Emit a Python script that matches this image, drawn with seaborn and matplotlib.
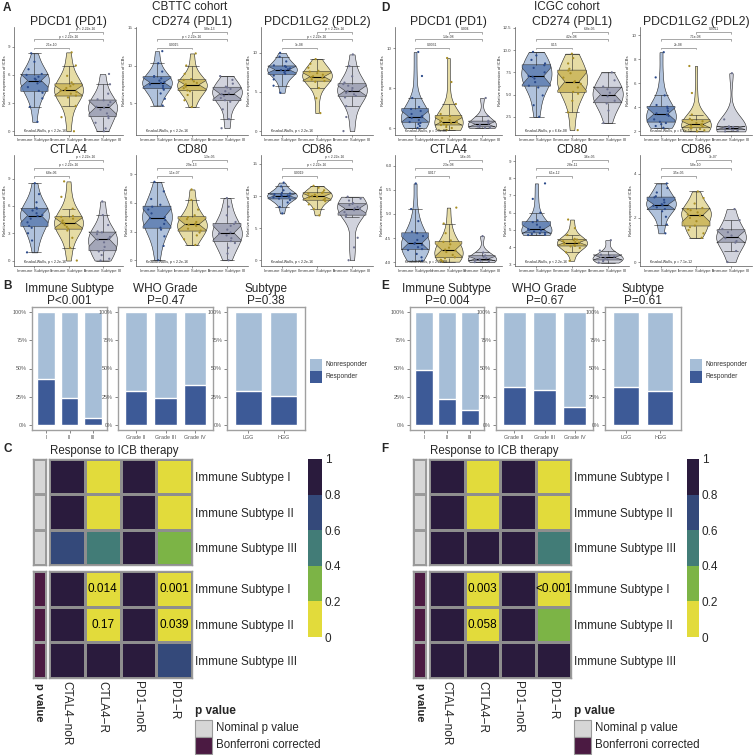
import numpy as np
import pandas as pd
import matplotlib
matplotlib.use('Agg')
import matplotlib.pyplot as plt
import seaborn as sns
from matplotlib.colors import ListedColormap
from matplotlib.patches import Rectangle
from matplotlib.ticker import FormatStrFormatter

# ---------------- data ----------------
subtypes = ['Immune Subtype I', 'Immune Subtype II', 'Immune Subtype III']

# CBTTC expression per immune subtype (I, II, III)
cbttc_pdcd1 = [[1.0, 2.6, 3.5, 4.1, 4.3, 4.7, 5.1, 5.3, 5.5, 5.6, 5.8, 6.0, 6.1, 6.6, 7.4, 8.3],
               [0.0, 1.5, 2.7, 3.6, 3.8, 4.0, 4.2, 4.3, 4.4, 4.6, 4.8, 5.0, 5.2, 5.9, 7.0, 8.4],
               [0.0, 0.3, 0.9, 1.4, 1.6, 1.9, 2.3, 2.5, 2.6, 2.8, 3.1, 3.3, 3.4, 4.0, 5.0, 6.1]]
cbttc_cd274 = [[4.7, 5.6, 6.3, 6.8, 7.0, 7.3, 7.5, 7.7, 7.8, 8.0, 8.3, 8.5, 8.6, 9.2, 10.3, 11.9],
               [4.5, 5.4, 6.1, 6.6, 6.7, 7.0, 7.2, 7.4, 7.5, 7.7, 7.9, 8.1, 8.2, 8.9, 10.0, 11.6],
               [1.7, 2.9, 4.2, 5.2, 5.4, 5.7, 6.0, 6.2, 6.3, 6.6, 6.9, 7.1, 7.2, 7.6, 8.1, 8.6]]
cbttc_pdcd1lg2 = [[4.9, 5.8, 6.6, 7.1, 7.3, 7.5, 7.7, 7.8, 7.9, 8.0, 8.2, 8.3, 8.4, 8.9, 9.5, 10.0],
                  [2.3, 4.2, 5.5, 6.3, 6.4, 6.6, 6.8, 6.9, 7.0, 7.2, 7.4, 7.6, 7.7, 8.1, 8.6, 9.2],
                  [0.0, 1.8, 3.2, 4.3, 4.5, 4.7, 4.9, 5.1, 5.2, 5.5, 5.8, 6.0, 6.2, 7.0, 8.3, 9.8]]
cbttc_ctla4 = [[0.9, 2.2, 3.0, 3.6, 3.8, 4.2, 4.6, 4.9, 5.0, 5.2, 5.5, 5.7, 5.8, 6.4, 7.3, 8.5],
               [0.0, 1.4, 2.5, 3.3, 3.5, 3.7, 3.9, 4.1, 4.2, 4.4, 4.6, 4.8, 4.9, 5.7, 7.0, 8.7],
               [0.0, 0.2, 0.6, 1.0, 1.1, 1.5, 2.0, 2.3, 2.4, 2.6, 2.9, 3.1, 3.2, 3.9, 5.0, 6.5]]
cbttc_cd80 = [[0.0, 1.5, 2.5, 3.2, 3.4, 3.8, 4.2, 4.4, 4.5, 4.9, 5.3, 5.6, 5.8, 6.4, 7.2, 8.2],
              [1.6, 2.2, 2.6, 2.9, 3.1, 3.3, 3.6, 3.7, 3.8, 4.0, 4.3, 4.5, 4.7, 5.3, 6.3, 7.4],
              [0.0, 0.7, 1.3, 1.8, 2.0, 2.3, 2.6, 2.8, 2.9, 3.2, 3.6, 3.8, 4.0, 4.7, 5.6, 6.5]]
cbttc_cd86 = [[7.3, 8.3, 9.0, 9.4, 9.6, 9.8, 9.9, 10.0, 10.1, 10.2, 10.3, 10.4, 10.5, 10.9, 11.5, 12.1],
              [7.0, 8.0, 8.7, 9.2, 9.4, 9.6, 9.8, 9.9, 10.0, 10.2, 10.4, 10.5, 10.6, 10.9, 11.3, 11.6],
              [0.0, 2.0, 3.5, 6.8, 7.1, 7.5, 7.8, 8.0, 8.1, 8.3, 8.6, 8.8, 8.9, 9.3, 9.6, 9.9]]

# ICGC expression per immune subtype
icgc_pdcd1 = [[6.0, 6.1, 6.2, 6.25, 6.3, 6.4, 6.5, 6.55, 6.6, 6.7, 6.85, 6.95, 7.05, 7.5, 8.6, 9.8],
              [5.9, 6.0, 6.05, 6.15, 6.15, 6.2, 6.25, 6.3, 6.35, 6.4, 6.5, 6.6, 6.7, 7.2, 8.3, 9.5],
              [6.0, 6.02, 6.05, 6.08, 6.15, 6.22, 6.3, 6.36, 6.6, 7.5]]
icgc_cd274 = [[2.5, 3.8, 4.9, 5.8, 6.0, 6.4, 6.8, 7.0, 7.1, 7.5, 8.0, 8.3, 8.5, 8.9, 9.4, 9.8],
              [1.0, 3.0, 4.3, 5.1, 5.3, 5.8, 6.2, 6.4, 6.5, 6.9, 7.4, 7.7, 7.9, 8.5, 9.1, 9.6],
              [1.8, 3.2, 4.0, 4.3, 4.8, 5.2, 5.6, 5.9, 6.6, 7.5]]
icgc_pdcd1lg2 = [[2.3, 2.45, 2.6, 2.7, 2.8, 3.0, 3.3, 3.4, 3.5, 3.7, 3.9, 4.05, 4.2, 5.0, 6.5, 8.6],
                 [2.0, 2.1, 2.2, 2.3, 2.3, 2.4, 2.5, 2.55, 2.6, 2.7, 2.85, 2.95, 3.05, 3.4, 5.2, 7.45],
                 [2.0, 2.08, 2.14, 2.2, 2.27, 2.32, 2.37, 2.42, 3.0, 6.85]]
icgc_ctla4 = [[4.03, 4.1, 4.17, 4.25, 4.27, 4.31, 4.36, 4.38, 4.4, 4.46, 4.54, 4.6, 4.63, 4.85, 5.1, 5.63],
              [4.01, 4.03, 4.05, 4.08, 4.1, 4.15, 4.21, 4.24, 4.26, 4.3, 4.37, 4.42, 4.45, 4.6, 4.8, 5.13],
              [4.0, 4.01, 4.03, 4.04, 4.06, 4.08, 4.11, 4.14, 4.2, 4.54]]
icgc_cd80 = [[4.7, 4.72, 4.76, 4.8, 4.83, 4.9, 4.97, 5.0, 5.05, 5.15, 5.3, 5.45, 5.55, 6.0, 6.8, 7.7],
             [3.2, 3.7, 3.95, 4.04, 4.07, 4.13, 4.2, 4.25, 4.28, 4.33, 4.4, 4.44, 4.48, 4.7, 5.1, 5.6],
             [3.1, 3.18, 3.24, 3.28, 3.36, 3.44, 3.5, 3.56, 3.8, 4.4]]
icgc_cd86 = [[1.3, 1.7, 2.05, 2.3, 2.4, 2.48, 2.55, 2.58, 2.62, 2.7, 2.82, 2.93, 2.98, 3.15, 3.35, 3.56],
             [1.1, 1.3, 1.45, 1.58, 1.65, 1.85, 2.0, 2.1, 2.15, 2.25, 2.35, 2.4, 2.45, 2.65, 2.9, 3.2],
             [0.0, 0.5, 0.88, 0.95, 1.08, 1.2, 1.35, 1.5, 1.9, 2.4]]

gene_titles = ['PDCD1 (PD1)', 'CD274 (PDL1)', 'PDCD1LG2 (PDL2)', 'CTLA4', 'CD80', 'CD86']

# pairwise p values: I vs II, I vs III, II vs III
cbttc_pairs = [['2.1e-10', 'p < 2.22e-16', 'p < 2.22e-16'],
               ['0.0015', 'p < 2.22e-16', '9.8e-13'],
               ['1e-08', 'p < 2.22e-16', 'p < 2.22e-16'],
               ['6.8e-06', 'p < 2.22e-16', 'p < 2.22e-16'],
               ['1.1e-07', '2.9e-13', '1.3e-05'],
               ['0.0019', 'p < 2.22e-16', 'p < 2.22e-16']]
icgc_pairs = [['0.0031', '1.4e-08', '0.004'],
              ['0.15', '4.2e-08', '6.8e-05'],
              ['2e-08', '7.1e-08', '0.0011'],
              ['0.017', '2.3e-08', '1.6e-05'],
              ['6.1e-12', '2.8e-11', '3.6e-05'],
              ['3.5e-05', '5.8e-10', '3e-07']]
cbttc_kw = ['p < 2.2e-16'] * 6
icgc_kw = ['p = 1.9e-08', 'p = 6.6e-08', 'p = 6.6e-12', 'p = 2.7e-08', 'p < 2.2e-16', 'p = 7.1e-12']

cbttc_ylims = [(-0.4, 11.1), (0.8, 15.1), (-0.5, 13.3), (-0.6, 11.6), (-0.6, 11.0), (-0.9, 16.4)]
cbttc_yticks = [[0, 3, 6, 9], [5, 10, 15], [0, 5, 10], [0, 3, 6, 9], [0, 3, 6, 9], [0, 5, 10, 15]]
icgc_ylims = [(5.65, 11.05), (0.45, 12.6), (1.7, 10.7), (3.92, 6.22), (2.9, 9.35), (-0.18, 4.85)]
icgc_yticks = [[6, 8, 10], [2.5, 5, 7.5, 10, 12.5], [2, 4, 6, 8, 10],
               [4.0, 4.5, 5.0, 5.5, 6.0], [3, 4, 5, 6, 7, 8, 9], [0, 2, 4]]
icgc_fmt = ['%g', '%.1f', '%g', '%.1f', '%g', '%g']

# response fractions
bar_titles = ['Immune Subtype', 'WHO Grade', 'Subtype']
bar_cats = [['I', 'II', 'III'], ['Grade II', 'Grade III', 'Grade IV'], ['LGG', 'HGG']]
cbttc_resp = [[0.41, 0.24, 0.06], [0.30, 0.24, 0.35], [0.30, 0.26]]
icgc_resp = [[0.49, 0.23, 0.13], [0.34, 0.31, 0.16], [0.34, 0.30]]
cbttc_pvals = ['P<0.001', 'P=0.47', 'P=0.38']
icgc_pvals = ['P=0.004', 'P=0.67', 'P=0.61']

# ICB response heatmaps
heat_rows = ['Immune Subtype I', 'Immune Subtype II', 'Immune Subtype III']
heat_cols = ['CTAL4\u2212noR', 'CTLA4\u2212R', 'PD1\u2212noR', 'PD1\u2212R']
cbttc_nominal = [[1.0, 0.0035, 1.0, 0.0003], [1.0, 0.0425, 1.0, 0.0098], [0.68, 0.47, 1.0, 0.31]]
cbttc_bonf = [[1.0, 0.014, 1.0, 0.001], [1.0, 0.17, 1.0, 0.039], [1.0, 1.0, 1.0, 0.72]]
cbttc_bonf_txt = [['', '0.014', '', '0.001'], ['', '0.17', '', '0.039'], ['', '', '', '']]
icgc_nominal = [[1.0, 0.0008, 1.0, 0.0001], [1.0, 0.0145, 1.0, 0.09], [1.0, 1.0, 1.0, 0.5]]
icgc_bonf = [[1.0, 0.003, 1.0, 0.0004], [1.0, 0.058, 1.0, 0.36], [1.0, 1.0, 1.0, 1.0]]
icgc_bonf_txt = [['', '0.003', '', '<0.001'], ['', '0.058', '', ''], ['', '', '', '']]

# ---------------- style ----------------
sns.set_style('white')
plt.rcParams['font.family'] = ['Liberation Sans', 'DejaVu Sans']

violin_fill = dict(zip(subtypes, ['#A9C0E3', '#F1E39A', '#CFD1DF']))
box_fill = dict(zip(subtypes, ['#4F79BF', '#DDBF45', '#979BB6']))
dot_col = dict(zip(subtypes, ['#2B4A8A', '#A88E25', '#6F7391']))
light_blue = '#A6BED7'
dark_blue = '#3D5A97'
heat_cmap = ListedColormap(['#E2DB3B', '#7CB446', '#427C77', '#34497A', '#2A1B3D'])
anno_cmap = ListedColormap(['#D6D6D6', '#4B1A42'])
grid_col = '#8E8E8E'
heat_fs = 8.5

W, H = 754, 755
fig = plt.figure(figsize=(W / 100, H / 100), dpi=100)


def add_ax(x0, y0, x1, y1):
    return fig.add_axes([x0 / W, 1 - y1 / H, (x1 - x0) / W, (y1 - y0) / H])


def bracket(ax, x0, x1, yf, txt):
    tr = ax.get_xaxis_transform()
    ax.plot([x0, x0, x1, x1], [yf - 0.018, yf, yf, yf - 0.018], transform=tr,
            color='#666666', lw=0.4, clip_on=False)
    ax.text((x0 + x1) / 2, yf + 0.006, txt, transform=tr, ha='center', va='bottom',
            fontsize=2.4, color='#333333')


def violin_panel(ax, groups, title, ylim, yticks, pairs, kw, fmt='%g'):
    df = pd.DataFrame({'grp': np.repeat(subtypes, [len(g) for g in groups]),
                       'val': np.concatenate(groups)})
    sns.violinplot(data=df, x='grp', y='val', hue='grp', palette=violin_fill, inner=None,
                   cut=0, density_norm='width', width=0.85, linewidth=0.4,
                   linecolor='#222222', legend=False, ax=ax)
    sns.boxplot(data=df, x='grp', y='val', hue='grp', palette=box_fill, notch=True,
                width=0.8, showfliers=False, linewidth=0.4, linecolor='#222222',
                boxprops=dict(alpha=0.85), medianprops=dict(color='black', linewidth=0.8),
                legend=False, ax=ax)
    sns.stripplot(data=df, x='grp', y='val', hue='grp', palette=dot_col, size=1.6,
                  jitter=0.25, legend=False, ax=ax)
    ax.set_xlim(-0.6, 2.6)
    ax.set_ylim(*ylim)
    ax.set_yticks(yticks)
    ax.yaxis.set_major_formatter(FormatStrFormatter(fmt))
    ax.set_title(title, fontsize=8.8, pad=1.2)
    ax.set_xlabel('')
    ax.set_ylabel('Relative expression of ICBs', fontsize=3, labelpad=1)
    ax.tick_params(axis='both', labelsize=3.2, length=1.5, width=0.4, pad=1,
                   colors='#444444', left=True, bottom=True)
    for s in ['top', 'right']:
        ax.spines[s].set_visible(False)
    for s in ['left', 'bottom']:
        ax.spines[s].set_linewidth(0.5)
        ax.spines[s].set_color('#555555')
    bracket(ax, 0, 1, 0.81, pairs[0])
    bracket(ax, 0, 2, 0.885, pairs[1])
    bracket(ax, 1, 2, 0.955, pairs[2])
    ax.text(0.09, 0.04, 'Kruskal-Wallis, ' + kw, transform=ax.transAxes, fontsize=2.5,
            ha='left', va='center', color='#222222')


def bar_panel(ax, cats, resp, title, pval):
    nonresp = [1 - r for r in resp]
    total = [r + n for r, n in zip(resp, nonresp)]
    sns.barplot(x=cats, y=total, color=light_blue, width=0.75, saturation=1,
                errorbar=None, ax=ax)
    sns.barplot(x=cats, y=resp, color=dark_blue, width=0.75, saturation=1,
                errorbar=None, ax=ax)
    ax.set_xlim(-0.6, len(cats) - 0.4)
    ax.set_ylim(-0.045, 1.045)
    ax.set_yticks([0, 0.25, 0.5, 0.75, 1.0])
    ax.set_yticklabels(['0%', '25%', '50%', '75%', '100%'])
    ax.set_title(title + '\n' + pval, fontsize=8.5, pad=2, linespacing=1.0)
    ax.tick_params(axis='both', labelsize=3.9, length=2, width=0.5, pad=1.5,
                   colors='#555555', left=True, bottom=True)
    for s in ax.spines.values():
        s.set_visible(True)
        s.set_color('#A0A0A0')
        s.set_linewidth(1.0)


def heat_panel(anno_x, heat_x, cbar_x, nominal, bonf, bonf_txt):
    blocks = [(459, 565, nominal, 0, None), (571, 678, bonf, 1, bonf_txt)]
    for y0, y1, vals, ptype, txt in blocks:
        code = [[ptype] for _ in heat_rows]
        a_ax = add_ax(anno_x[0], y0, anno_x[1], y1)
        sns.heatmap(np.array(code), cmap=anno_cmap, vmin=0, vmax=1, cbar=False,
                    linewidths=0.8, linecolor='#9A9A9A', xticklabels=False,
                    yticklabels=False, ax=a_ax)
        h_ax = add_ax(heat_x[0], y0, heat_x[1], y1)
        df = pd.DataFrame(vals, index=heat_rows, columns=heat_cols)
        kws = dict(cmap=heat_cmap, vmin=0, vmax=1, linewidths=0.8, linecolor=grid_col, ax=h_ax)
        if ptype == 0:
            c_ax = add_ax(cbar_x[0], 459, cbar_x[1], 637)
            sns.heatmap(df, cbar=True, cbar_ax=c_ax, **kws)
            c_ax.set_yticks([0, 0.2, 0.4, 0.6, 0.8, 1.0])
            c_ax.set_yticklabels(['0', '0.2', '0.4', '0.6', '0.8', '1'])
            c_ax.tick_params(length=0, labelsize=heat_fs, pad=2)
            for s in c_ax.spines.values():
                s.set_visible(False)
            h_ax.set_xticks([])
        else:
            sns.heatmap(df, cbar=False, annot=np.array(txt), fmt='',
                        annot_kws={'fontsize': heat_fs, 'color': 'black'}, **kws)
            h_ax.set_xticklabels(heat_cols, rotation=270, fontsize=heat_fs, ha='center', va='top')
        h_ax.yaxis.tick_right()
        h_ax.set_yticklabels(heat_rows, rotation=0, fontsize=heat_fs)
        h_ax.tick_params(length=0, pad=2)
        h_ax.set_xlabel('')
        h_ax.set_ylabel('')
        for ax_ in (a_ax, h_ax):
            for s in ax_.spines.values():
                s.set_visible(True)
                s.set_color('#9A9A9A')
                s.set_linewidth(1.0)
    # side label and legend
    fig.text((anno_x[0] + anno_x[1]) / 2 / W, 1 - 683 / H, 'p value', rotation=270,
             ha='center', va='top', fontsize=8, fontweight='bold')
    lx = heat_x[1] + 3
    fig.text(lx / W, 1 - 711 / H, 'p value', fontsize=8.5, fontweight='bold', va='center')
    for i, (lab, col) in enumerate([('Nominal p value', '#D6D6D6'), ('Bonferroni corrected', '#4B1A42')]):
        yy = 720 + i * 17
        fig.add_artist(Rectangle((lx / W, 1 - (yy + 17) / H), 17 / W, 17 / H,
                                 transform=fig.transFigure, facecolor=col,
                                 edgecolor='#9A9A9A', lw=0.8))
        fig.text((lx + 21) / W, 1 - (yy + 8.5) / H, lab, fontsize=8.3, va='center')
    fig.text((heat_x[0] + 1) / W, 1 - 451 / H, 'Response to ICB therapy', fontsize=8.3, va='center')


def bar_legend(x0, y0):
    for i, (lab, col) in enumerate([('Nonresponder', light_blue), ('Responder', dark_blue)]):
        yy = y0 + i * 12
        fig.add_artist(Rectangle((x0 / W, 1 - (yy + 11.5) / H), 12 / W, 11.5 / H,
                                 transform=fig.transFigure, facecolor=col, edgecolor='none'))
        fig.text((x0 + 16) / W, 1 - (yy + 6) / H, lab, fontsize=4.8, va='center', color='#333333')


# ---------------- cohorts ----------------
cohorts = [
    dict(name='CBTTC cohort', cx=190, labels=('A', 'B', 'C'), lx=3,
         genes=[cbttc_pdcd1, cbttc_cd274, cbttc_pdcd1lg2, cbttc_ctla4, cbttc_cd80, cbttc_cd86],
         pairs=cbttc_pairs, kw=cbttc_kw, ylims=cbttc_ylims, yticks=cbttc_yticks, fmts=['%g'] * 6,
         vx=[(14, 123), (136, 248), (261, 373)],
         bx=[(32, 107), (118, 213), (227, 305)], legx=310,
         resp=cbttc_resp, pvals=cbttc_pvals,
         anno_x=(33, 46), heat_x=(49, 192), cbar_x=(308, 322),
         nominal=cbttc_nominal, bonf=cbttc_bonf, bonf_txt=cbttc_bonf_txt),
    dict(name='ICGC cohort', cx=567, labels=('D', 'E', 'F'), lx=381,
         genes=[icgc_pdcd1, icgc_cd274, icgc_pdcd1lg2, icgc_ctla4, icgc_cd80, icgc_cd86],
         pairs=icgc_pairs, kw=icgc_kw, ylims=icgc_ylims, yticks=icgc_yticks, fmts=icgc_fmt,
         vx=[(395, 502), (515, 629), (640, 752)],
         bx=[(410, 484), (496, 593), (605, 681)], legx=690,
         resp=icgc_resp, pvals=icgc_pvals,
         anno_x=(413, 426), heat_x=(429, 571), cbar_x=(687, 699),
         nominal=icgc_nominal, bonf=icgc_bonf, bonf_txt=icgc_bonf_txt),
]

rows_y = [(27, 135), (155, 266)]
for c in cohorts:
    fig.text(c['cx'] / W, 1 - 6.5 / H, c['name'], fontsize=8.5, ha='center', va='center')
    for g in range(6):
        r, col = divmod(g, 3)
        ax = add_ax(c['vx'][col][0], rows_y[r][0], c['vx'][col][1], rows_y[r][1])
        violin_panel(ax, c['genes'][g], gene_titles[g], c['ylims'][g], c['yticks'][g],
                     c['pairs'][g], c['kw'][g], c['fmts'][g])
    for b in range(3):
        ax = add_ax(c['bx'][b][0], 307, c['bx'][b][1], 430)
        bar_panel(ax, bar_cats[b], c['resp'][b], bar_titles[b], c['pvals'][b])
    bar_legend(c['legx'], 359)
    heat_panel(c['anno_x'], c['heat_x'], c['cbar_x'], c['nominal'], c['bonf'], c['bonf_txt'])
    for lab, yy in zip(c['labels'], [8, 286, 449]):
        fig.text(c['lx'] / W, 1 - yy / H, lab, fontsize=8.5, fontweight='bold', va='center')

fig.savefig('out.png', dpi=100, facecolor='white')
